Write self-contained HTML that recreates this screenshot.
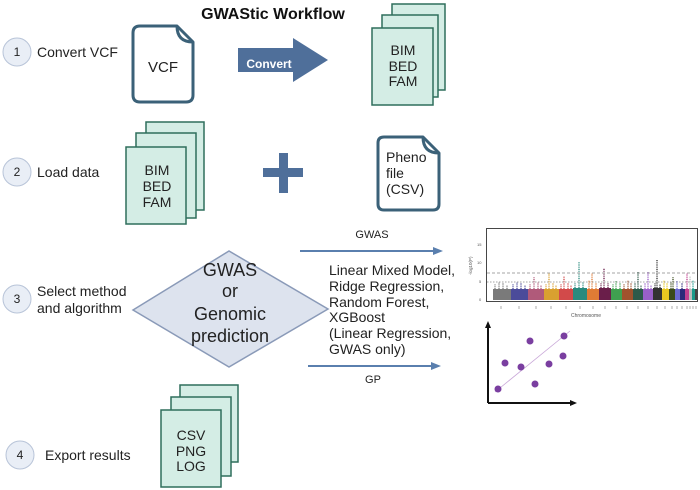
<!DOCTYPE html>
<html><head><meta charset="utf-8"><style>
html,body{margin:0;padding:0;background:#fff;}
svg{display:block;font-family:"Liberation Sans",sans-serif;}
</style></head><body>
<svg width="700" height="490" viewBox="0 0 700 490" xmlns="http://www.w3.org/2000/svg">
<text x="273" y="19" font-size="16" font-weight="bold" text-anchor="middle" fill="#111">GWAStic Workflow</text>
<g fill="#e9eef6" stroke="#b8c4d8" stroke-width="1">
<circle cx="17" cy="52" r="14"/><circle cx="17" cy="172" r="14"/><circle cx="17" cy="299" r="14"/><circle cx="20" cy="455" r="14"/>
</g>
<g font-size="12" text-anchor="middle" fill="#222">
<text x="17" y="56">1</text><text x="17" y="176">2</text><text x="17" y="303">3</text><text x="20" y="459">4</text>
</g>
<g font-size="14" fill="#222">
<text x="37" y="57">Convert VCF</text>
<text x="37" y="177">Load  data</text>
<text x="37" y="296">Select method</text>
<text x="37" y="313">and algorithm</text>
<text x="45" y="460">Export results</text>
</g>
<path d="M140,26 H177 L193,42 V95 Q193,102 186,102 H140 Q133,102 133,95 V33 Q133,26 140,26 Z" fill="#fff" stroke="#3b6178" stroke-width="3" stroke-linejoin="round"/>
<path d="M177,26 Q177,42 193,42" fill="none" stroke="#3b6178" stroke-width="3"/>
<text x="163" y="72" font-size="15" text-anchor="middle" fill="#222">VCF</text>
<path d="M238,48 H293 V38 L328,60 L293,82 V72 H238 Z" fill="#4f6f9a"/>
<text x="269" y="68" font-size="12" font-weight="bold" fill="#fff" text-anchor="middle">Convert</text>
<g fill="#d4ede5" stroke="#2f6e5c" stroke-width="1.5">
<rect x="392" y="4" width="53" height="86"/><rect x="382" y="15" width="56" height="82"/><rect x="372" y="28" width="61" height="77"/>
<rect x="146" y="122" width="58" height="88"/><rect x="136" y="133" width="60" height="85"/><rect x="126" y="147" width="60" height="77"/>
<rect x="180" y="385" width="58" height="77"/><rect x="171" y="397" width="60" height="79"/><rect x="161" y="410" width="60" height="77"/>
</g>
<g font-size="14" text-anchor="middle" fill="#222">
<text x="403" y="55">BIM</text><text x="403" y="71">BED</text><text x="403" y="86">FAM</text>
<text x="157" y="175">BIM</text><text x="157" y="191">BED</text><text x="157" y="207">FAM</text>
<text x="191" y="440">CSV</text><text x="191" y="456">PNG</text><text x="191" y="471">LOG</text>
</g>
<rect x="263" y="168" width="40" height="9" fill="#4f6f9a"/><rect x="279" y="153" width="9" height="40" fill="#4f6f9a"/>
<path d="M384,137 H423 L439,153 V204 Q439,210 433,210 H384 Q378,210 378,204 V143 Q378,137 384,137 Z" fill="#fff" stroke="#3b6178" stroke-width="3" stroke-linejoin="round"/>
<path d="M423,137 Q423,153 439,153" fill="none" stroke="#3b6178" stroke-width="3"/>
<g font-size="14" fill="#222"><text x="386" y="162">Pheno</text><text x="386" y="178">file</text><text x="386" y="194">(CSV)</text></g>
<g stroke="#5a7fae" stroke-width="2"><line x1="300" y1="251" x2="436" y2="251"/><line x1="308" y1="366" x2="434" y2="366"/></g>
<path d="M443,251 L433,247 L433,255 Z M441,366 L431,362 L431,370 Z" fill="#5a7fae"/>
<text x="372" y="238" font-size="11" text-anchor="middle" fill="#222">GWAS</text>
<text x="373" y="383" font-size="11" text-anchor="middle" fill="#222">GP</text>
<path d="M133,310 L229,251 L328,309 L229,367 Z" fill="#dde3ee" stroke="#8a9ab8" stroke-width="1.5"/>
<g font-size="18" text-anchor="middle" fill="#222">
<text x="230" y="276">GWAS</text><text x="230" y="297">or</text><text x="230" y="320">Genomic</text><text x="230" y="342">prediction</text>
</g>
<g font-size="14" fill="#222">
<text x="329" y="275">Linear Mixed Model,</text><text x="329" y="291">Ridge Regression,</text><text x="329" y="307">Random Forest,</text><text x="329" y="322">XGBoost</text><text x="329" y="338">(Linear Regression,</text><text x="329" y="354">GWAS only)</text>
</g>
<!-- manhattan -->
<g font-size="4" fill="#555"><text x="477" y="246">15</text><text x="477" y="264">10</text><text x="479" y="283">5</text><text x="479" y="301">0</text></g>
<text x="472" y="275" font-size="4.5" fill="#555" transform="rotate(-90 472 275)">-log10(P)</text>
<rect x="486.5" y="228.5" width="211" height="73" fill="none" stroke="#333" stroke-width="0.9"/>
<g>
<rect x="493" y="289" width="18" height="11" fill="#7a7a7a"/>
<rect x="511" y="289" width="17" height="11" fill="#4b4b9a"/>
<rect x="528" y="289" width="16" height="11" fill="#b05a7a"/>
<rect x="544" y="289" width="15" height="11" fill="#d9a030"/>
<rect x="559" y="289" width="14" height="11" fill="#d24a4a"/>
<rect x="573" y="288" width="14" height="12" fill="#2a8a7e"/>
<rect x="587" y="289" width="12" height="11" fill="#e07b35"/>
<rect x="599" y="288" width="12" height="12" fill="#6a1e4a"/>
<rect x="611" y="289" width="11" height="11" fill="#40a050"/>
<rect x="622" y="289" width="11" height="11" fill="#a0522d"/>
<rect x="633" y="289" width="10" height="11" fill="#2e5a4a"/>
<rect x="643" y="289" width="10" height="11" fill="#9a60c8"/>
<rect x="653" y="288" width="9" height="12" fill="#333"/>
<rect x="662" y="289" width="7" height="11" fill="#e8c820"/>
<rect x="669" y="289" width="6" height="11" fill="#3a4a1a"/>
<rect x="675" y="289" width="5" height="11" fill="#6a6ad0"/>
<rect x="680" y="289" width="5" height="11" fill="#2a2a7a"/>
<rect x="685" y="289" width="4" height="11" fill="#c04090"/>
<rect x="689" y="289" width="3" height="11" fill="#bbb"/>
<rect x="692" y="289" width="3" height="11" fill="#1a9a8a"/>
<rect x="695" y="289" width="2" height="11" fill="#444"/>
</g>
<g stroke-width="1.3" stroke-dasharray="1,0.8">
<path d="M495,289V284M499,289V282M503,289V283M507,289V285" stroke="#7a7a7a"/>
<path d="M513,289V284M517,289V282M521,289V283M525,289V285" stroke="#4b4b9a"/>
<path d="M530,289V284M534,289V277M538,289V282M541,289V285" stroke="#b05a7a"/>
<path d="M546,289V284M549,289V273M553,289V283M556,289V285" stroke="#d9a030"/>
<path d="M561,289V284M564,289V276M568,289V283M571,289V285" stroke="#d24a4a"/>
<path d="M575,288V283M579,288V262M583,288V282" stroke="#2a8a7e"/>
<path d="M589,289V280M592,289V273M596,289V283" stroke="#e07b35"/>
<path d="M601,288V283M604,288V268M608,288V283" stroke="#6a1e4a"/>
<path d="M613,289V284M616,289V281M620,289V283" stroke="#40a050"/>
<path d="M624,289V284M628,289V280M631,289V283" stroke="#a0522d"/>
<path d="M635,289V283M638,289V272M641,289V285" stroke="#2e5a4a"/>
<path d="M645,289V283M648,289V272M651,289V285" stroke="#9a60c8"/>
<path d="M655,288V283M657,288V260M660,288V284" stroke="#333"/>
<path d="M664,289V280M667,289V283" stroke="#e8c820"/>
<path d="M671,289V282M673,289V277" stroke="#3a4a1a"/>
<path d="M677,289V281" stroke="#6a6ad0"/>
<path d="M682,289V283" stroke="#2a2a7a"/>
<path d="M687,289V273" stroke="#c04090"/>
<path d="M690,289V276" stroke="#bbb"/>
<path d="M693,289V280" stroke="#1a9a8a"/>
</g>
<g stroke="#888" stroke-width="0.7"><line x1="487" y1="273" x2="697" y2="273" stroke-dasharray="3,2"/><line x1="487" y1="282" x2="697" y2="282" stroke-dasharray="1.5,1.5"/></g>
<g stroke="#777" stroke-width="0.6">
<path d="M501,306V309M519,306V309M536,306V309M551,306V309M566,306V309M580,306V309M593,306V309M605,306V309M616,306V309M627,306V309M638,306V309M648,306V309M657,306V309M665,306V309M672,306V309M677,306V309M682,306V309M687,306V309M690,306V309M693,306V309M696,306V309"/>
</g>
<text x="586" y="317" font-size="5" fill="#555" text-anchor="middle">Chromosome</text>
<!-- scatter -->
<path d="M488,403 H572 M488,403 V326" stroke="#111" stroke-width="2" fill="none"/>
<path d="M488,321 L485,328 L491,328 Z M577,403 L570,400 L570,406 Z" fill="#111"/>
<line x1="495" y1="392" x2="570" y2="331" stroke="#c9a8d8" stroke-width="0.8"/>
<g fill="#7a3ea0">
<circle cx="498" cy="389" r="3.5"/><circle cx="505" cy="363" r="3.5"/><circle cx="521" cy="367" r="3.5"/><circle cx="530" cy="341" r="3.5"/>
<circle cx="535" cy="384" r="3.5"/><circle cx="549" cy="364" r="3.5"/><circle cx="563" cy="356" r="3.5"/><circle cx="564" cy="336" r="3.5"/>
</g>
</svg>
</body></html>
